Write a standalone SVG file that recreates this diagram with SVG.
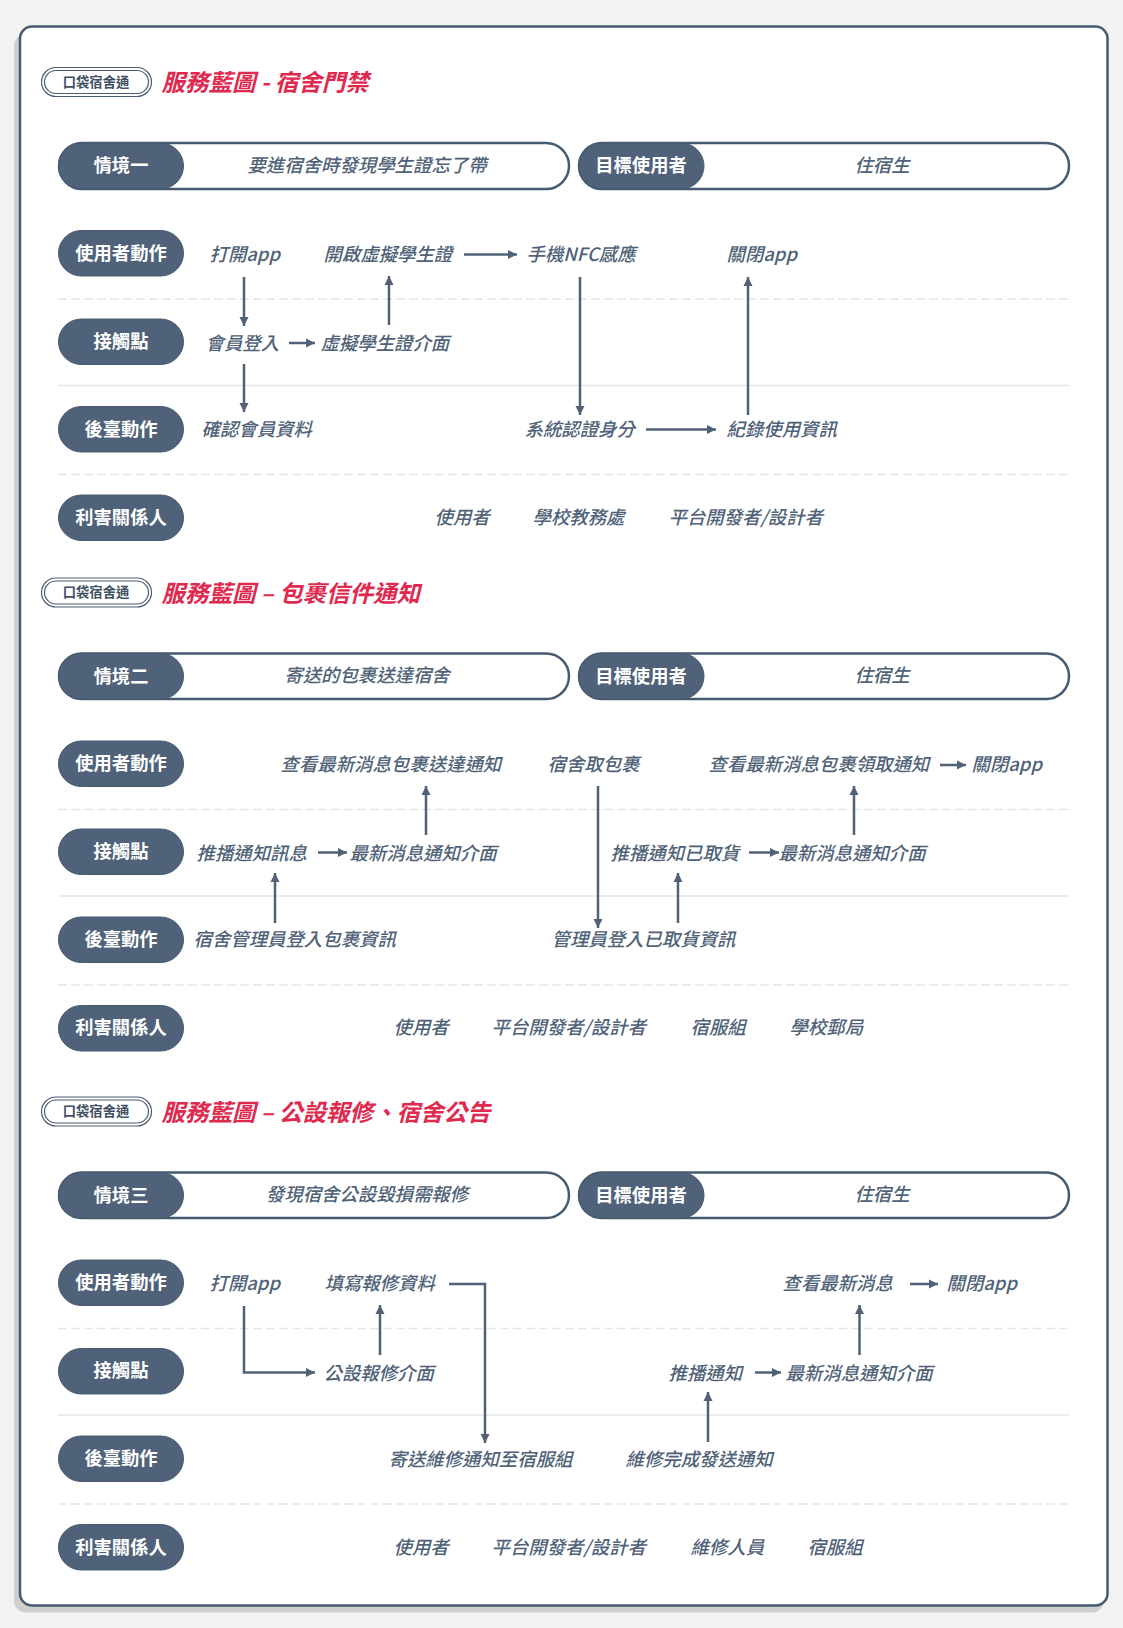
<svg xmlns="http://www.w3.org/2000/svg" width="1123" height="1628" viewBox="0 0 1123 1628">
<style>
text{font-family:"Noto Sans CJK TC","Noto Sans CJK SC",sans-serif}
.t{font-size:18.4px;font-style:italic;font-weight:500;fill:#4f6278}
.c{text-anchor:middle}
.lab{font-size:18.3px;font-weight:700;fill:#fff;text-anchor:middle}
.title{font-size:23.5px;font-style:italic;font-weight:700;fill:#e0294f}
.badge{font-size:13.3px;font-weight:700;fill:#3f4f62;text-anchor:middle}
.p{fill:#4f6279;stroke:#465a70;stroke-width:1}
.o{fill:#fff;stroke:#465a70;stroke-width:2.5}
.b1{fill:#fff;stroke:#4a5c72;stroke-width:1.2}
.dash{stroke:#e4e6e9;stroke-width:1.5;stroke-dasharray:9 4;fill:none}
.solid{stroke:#e4e6e9;stroke-width:1.5;fill:none}
.a{stroke:#4f6278;stroke-width:2.5;fill:none;marker-end:url(#ah)}
</style>
<defs>
<marker id="ah" markerUnits="userSpaceOnUse" markerWidth="10" markerHeight="10" refX="9" refY="5" orient="auto"><path d="M0 0.500 L9 5 L0 9.500 Z" fill="#4f6278"/></marker>
</defs>
<rect width="1123" height="1628" fill="#f2f2f2"/>
<rect x="14" y="34" width="1090" height="1578.500" rx="12" fill="#cfcfcf"/>
<rect x="20" y="26.500" width="1087.500" height="1579" rx="12" fill="#fff" stroke="#465a70" stroke-width="2.500"/>

<g id="dividers">
<path class="dash" d="M58 299H1069M58 474.500H1069M58 809.500H1069M58 985H1069M58 1328.500H1069M58 1504H1069"/>
<path class="solid" d="M58 385.500H1069M58 896H1069M58 1415H1069"/>
</g>

<g id="connectors">
<path class="a" d="M464 254.500H517"/>
<path class="a" d="M244 277V326"/>
<path class="a" d="M389 325V276"/>
<path class="a" d="M289 343H315"/>
<path class="a" d="M244 364V412"/>
<path class="a" d="M580 277V415"/>
<path class="a" d="M748 415V277"/>
<path class="a" d="M646 429.500H716"/>

<path class="a" d="M940 765H966"/>
<path class="a" d="M426 835V786"/>
<path class="a" d="M318 852.500H347"/>
<path class="a" d="M598 786V928"/>
<path class="a" d="M749 852.500H779"/>
<path class="a" d="M854 835V786"/>
<path class="a" d="M275 923V873"/>
<path class="a" d="M678 923V873"/>

<path class="a" d="M244 1306V1372.500H315"/>
<path class="a" d="M380 1355V1305"/>
<path class="a" d="M449 1284H485V1443"/>
<path class="a" d="M910 1284H938"/>
<path class="a" d="M859.500 1355V1305"/>
<path class="a" d="M755 1372.500H781"/>
<path class="a" d="M708 1442V1392"/>
</g>

<g id="s1-header">
<rect x="41.500" y="67.500" width="110" height="29" rx="14.500" class="b1"/>
<rect x="44.500" y="70.500" width="104" height="23" rx="11.500" class="b1"/>
<text class="badge" x="96" y="86.500">口袋宿舍通</text>
<text class="title" x="161.500" y="91">服務藍圖 - 宿舍門禁</text>
</g>
<g id="s1-scenario"><rect class="o" x="59" y="143" width="510" height="46" rx="23"/><rect class="p" x="58.500" y="143" width="125" height="46" rx="23"/><text class="lab" x="121" y="172">情境一</text><text class="t c" x="367" y="171.500">要進宿舍時發現學生證忘了帶</text></g>
<g id="s1-target"><rect class="o" x="579" y="143" width="490" height="46" rx="23"/><rect class="p" x="579" y="143" width="125" height="46" rx="23"/><text class="lab" x="641" y="172">目標使用者</text><text class="t c" x="882" y="171.500">住宿生</text></g>
<g id="s1-r1"><rect class="p" x="58.500" y="230.500" width="125" height="45.500" rx="22.750"/><text class="lab" x="121" y="259.500">使用者動作</text></g>
<g id="s1-r2"><rect class="p" x="58.500" y="319" width="125" height="45.500" rx="22.750"/><text class="lab" x="121" y="348">接觸點</text></g>
<g id="s1-r3"><rect class="p" x="58.500" y="406.500" width="125" height="45.500" rx="22.750"/><text class="lab" x="121" y="435.500">後臺動作</text></g>
<g id="s1-r4"><rect class="p" x="58.500" y="495" width="125" height="45.500" rx="22.750"/><text class="lab" x="121" y="524">利害關係人</text></g>
<g id="s1-items" transform="translate(-1.500 0.700)">
<text class="t" x="211" y="260">打開app</text><text class="t" x="325" y="260">開啟虛擬學生證</text><text class="t" x="528" y="260">手機NFC感應</text><text class="t" x="728" y="260">關閉app</text>
<text class="t" x="207" y="349">會員登入</text><text class="t" x="322" y="349">虛擬學生證介面</text>
<text class="t" x="203" y="435">確認會員資料</text><text class="t" x="526" y="435">系統認證身分</text><text class="t" x="728" y="435">紀錄使用資訊</text>
<text class="t" x="436" y="523">使用者</text><text class="t" x="534" y="523">學校教務處</text><text class="t" x="670" y="523">平台開發者/設計者</text>
</g>

<g id="s2-header">
<rect x="41.500" y="578" width="110" height="29" rx="14.500" class="b1"/>
<rect x="44.500" y="581" width="104" height="23" rx="11.500" class="b1"/>
<text class="badge" x="96" y="597">口袋宿舍通</text>
<text class="title" x="161.500" y="602">服務藍圖 – 包裹信件通知</text>
</g>
<g id="s2-scenario"><rect class="o" x="59" y="653.500" width="510" height="45.500" rx="22.750"/><rect class="p" x="58.500" y="653.500" width="125" height="45.500" rx="22.750"/><text class="lab" x="121" y="682.500">情境二</text><text class="t c" x="367" y="682">寄送的包裹送達宿舍</text></g>
<g id="s2-target"><rect class="o" x="579" y="653.500" width="490" height="45.500" rx="22.750"/><rect class="p" x="579" y="653.500" width="125" height="45.500" rx="22.750"/><text class="lab" x="641" y="682.500">目標使用者</text><text class="t c" x="882" y="682">住宿生</text></g>
<g id="s2-r1"><rect class="p" x="58.500" y="741" width="125" height="45.500" rx="22.750"/><text class="lab" x="121" y="770">使用者動作</text></g>
<g id="s2-r2"><rect class="p" x="58.500" y="829" width="125" height="45.500" rx="22.750"/><text class="lab" x="121" y="857.500">接觸點</text></g>
<g id="s2-r3"><rect class="p" x="58.500" y="917" width="125" height="45.500" rx="22.750"/><text class="lab" x="121" y="945.500">後臺動作</text></g>
<g id="s2-r4"><rect class="p" x="58.500" y="1005.500" width="125" height="45.500" rx="22.750"/><text class="lab" x="121" y="1034">利害關係人</text></g>
<g id="s2-items" transform="translate(-1.500 0.500)">
<text class="t" x="282" y="770.500">查看最新消息包裹送達通知</text><text class="t" x="549" y="770.500">宿舍取包裹</text><text class="t" x="710" y="770.500">查看最新消息包裹領取通知</text><text class="t" x="973" y="770.500">關閉app</text>
<text class="t" x="198" y="859.500">推播通知訊息</text><text class="t" x="351" y="859.500">最新消息通知介面</text><text class="t" x="612" y="859.500">推播通知已取貨</text><text class="t" x="780" y="859.500">最新消息通知介面</text>
<text class="t" x="195" y="945.500">宿舍管理員登入包裹資訊</text><text class="t" x="553" y="945.500">管理員登入已取貨資訊</text>
<text class="t" x="395" y="1033.500">使用者</text><text class="t" x="493" y="1033.500">平台開發者/設計者</text><text class="t" x="692" y="1033.500">宿服組</text><text class="t" x="791" y="1033.500">學校郵局</text>
</g>

<g id="s3-header">
<rect x="41.500" y="1097" width="110" height="29" rx="14.500" class="b1"/>
<rect x="44.500" y="1100" width="104" height="23" rx="11.500" class="b1"/>
<text class="badge" x="96" y="1116">口袋宿舍通</text>
<text class="title" x="161.500" y="1121">服務藍圖 – 公設報修、宿舍公告</text>
</g>
<g id="s3-scenario"><rect class="o" x="59" y="1172.500" width="510" height="45.500" rx="22.750"/><rect class="p" x="58.500" y="1172.500" width="125" height="45.500" rx="22.750"/><text class="lab" x="121" y="1201.500">情境三</text><text class="t c" x="367" y="1201">發現宿舍公設毀損需報修</text></g>
<g id="s3-target"><rect class="o" x="579" y="1172.500" width="490" height="45.500" rx="22.750"/><rect class="p" x="579" y="1172.500" width="125" height="45.500" rx="22.750"/><text class="lab" x="641" y="1201.500">目標使用者</text><text class="t c" x="882" y="1201">住宿生</text></g>
<g id="s3-r1"><rect class="p" x="58.500" y="1260" width="125" height="45.500" rx="22.750"/><text class="lab" x="121" y="1289">使用者動作</text></g>
<g id="s3-r2"><rect class="p" x="58.500" y="1348.500" width="125" height="45.500" rx="22.750"/><text class="lab" x="121" y="1377">接觸點</text></g>
<g id="s3-r3"><rect class="p" x="58.500" y="1436" width="125" height="45.500" rx="22.750"/><text class="lab" x="121" y="1465">後臺動作</text></g>
<g id="s3-r4"><rect class="p" x="58.500" y="1524.500" width="125" height="45.500" rx="22.750"/><text class="lab" x="121" y="1553.500">利害關係人</text></g>
<g id="s3-items" transform="translate(-1.500 0.500)">
<text class="t" x="211" y="1289.500">打開app</text><text class="t" x="326" y="1289.500">填寫報修資料</text><text class="t" x="784" y="1289.500">查看最新消息</text><text class="t" x="948" y="1289.500">關閉app</text>
<text class="t" x="325" y="1379.500">公設報修介面</text><text class="t" x="670" y="1379.500">推播通知</text><text class="t" x="787" y="1379.500">最新消息通知介面</text>
<text class="t" x="390" y="1465.500">寄送維修通知至宿服組</text><text class="t" x="627" y="1465.500">維修完成發送通知</text>
<text class="t" x="395" y="1553">使用者</text><text class="t" x="493" y="1553">平台開發者/設計者</text><text class="t" x="692" y="1553">維修人員</text><text class="t" x="809" y="1553">宿服組</text>
</g>
</svg>
